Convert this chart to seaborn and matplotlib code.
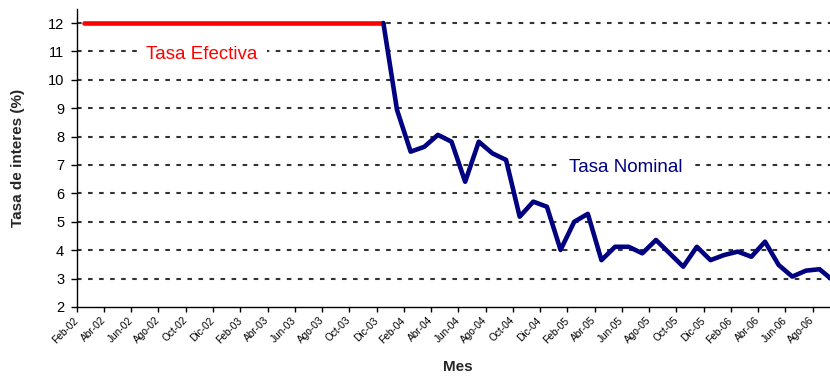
import matplotlib
matplotlib.use("Agg")
import matplotlib.pyplot as plt
import seaborn as sns
import pandas as pd

# Monthly categories, Feb-02 through Sep-06
meses = [
    "Feb-02", "Mar-02", "Abr-02", "May-02", "Jun-02", "Jul-02", "Ago-02", "Sep-02",
    "Oct-02", "Nov-02", "Dic-02", "Ene-03", "Feb-03", "Mar-03", "Abr-03", "May-03",
    "Jun-03", "Jul-03", "Ago-03", "Sep-03", "Oct-03", "Nov-03", "Dic-03", "Ene-04",
    "Feb-04", "Mar-04", "Abr-04", "May-04", "Jun-04", "Jul-04", "Ago-04", "Sep-04",
    "Oct-04", "Nov-04", "Dic-04", "Ene-05", "Feb-05", "Mar-05", "Abr-05", "May-05",
    "Jun-05", "Jul-05", "Ago-05", "Sep-05", "Oct-05", "Nov-05", "Dic-05", "Ene-06",
    "Feb-06", "Mar-06", "Abr-06", "May-06", "Jun-06", "Jul-06", "Ago-06", "Sep-06",
]

# Effective rate, Feb-02 .. Dic-03
tasa_efectiva = [12, 12, 12, 12, 12, 12, 12, 12, 12, 12, 12, 12,
                 12, 12, 12, 12, 12, 12, 12, 12, 12, 12, 12]

# Nominal rate, Dic-03 .. Sep-06
tasa_nominal = [12.0, 8.94, 7.47, 7.64, 8.06, 7.82, 6.41, 7.82, 7.41, 7.18,
                5.18, 5.71, 5.53, 4.01, 5.00, 5.28, 3.65, 4.12, 4.12, 3.89,
                4.36, 3.89, 3.42, 4.12, 3.65, 3.83, 3.95, 3.77, 4.30, 3.48,
                3.07, 3.28, 3.33, 2.93]

# Labelled ticks (every second month)
etiquetas = meses[::2]

inicio_nominal = len(tasa_efectiva) - 1

df = pd.DataFrame({
    "pos": [i + 0.5 for i in range(len(tasa_efectiva))]
           + [inicio_nominal + i + 0.5 for i in range(len(tasa_nominal))],
    "tasa": tasa_efectiva + tasa_nominal,
    "serie": ["Tasa Efectiva"] * len(tasa_efectiva) + ["Tasa Nominal"] * len(tasa_nominal),
})

sns.set_theme(style="white")
plt.rcParams["font.family"] = ["Liberation Sans", "DejaVu Sans"]

fig = plt.figure(figsize=(8.30, 3.78), dpi=100)
ax = fig.add_axes([76.7 / 830, 71 / 378, (830 - 76.7) / 830, 298 / 378])

# dotted horizontal grid
for y in range(3, 13):
    ax.axhline(y, color="#333333", lw=1.5, ls=(0, (2.2, 3.1)), zorder=1)

sns.lineplot(data=df, x="pos", y="tasa", hue="serie",
             palette={"Tasa Efectiva": "#FF0000", "Tasa Nominal": "#000080"},
             estimator=None, sort=False, lw=3.3, legend=False, ax=ax, zorder=3)

ax.set_xlim(0, (830 - 76.7) / 13.63)
ax.set_ylim(2, 2 + 298 / 28.4)

ax.set_xticks(range(0, len(meses), 2))
ax.set_xticklabels(etiquetas, rotation=45, ha="right", va="center",
                   rotation_mode="anchor", fontsize=7.3)
ax.set_yticks(range(2, 13))
ax.set_yticklabels([str(v) for v in range(2, 13)], fontsize=10.5)

ax.tick_params(axis="x", direction="out", length=3.5, width=1, pad=5,
               bottom=True, colors="black")
ax.tick_params(axis="y", direction="out", length=4, width=1, pad=5,
               left=True, colors="black")

for side in ("top", "right"):
    ax.spines[side].set_visible(False)
for side in ("left", "bottom"):
    ax.spines[side].set_color("black")
    ax.spines[side].set_linewidth(1)

ax.set_xlabel("Mes", fontsize=11, fontweight="bold")
ax.set_ylabel("Tasa de interes (%)", fontsize=11, fontweight="bold")
ax.xaxis.set_label_coords((458 - 76.7) / (830 - 76.7), -(360 - 307) / 298)
ax.yaxis.set_label_coords(-(77 - 25) / (830 - 76.7), 0.5)

caja = dict(boxstyle="square,pad=0.5", fc="white", ec="none")
ax.text(5.08, 10.72, "Tasa Efectiva", color="#FF0000", fontsize=13.5,
        ha="left", va="baseline", bbox=caja, zorder=2)
ax.text(36.1, 6.75, "Tasa Nominal", color="#000080", fontsize=13.5,
        ha="left", va="baseline", bbox=caja, zorder=2)

fig.savefig("out.png", dpi=100, facecolor="white")
